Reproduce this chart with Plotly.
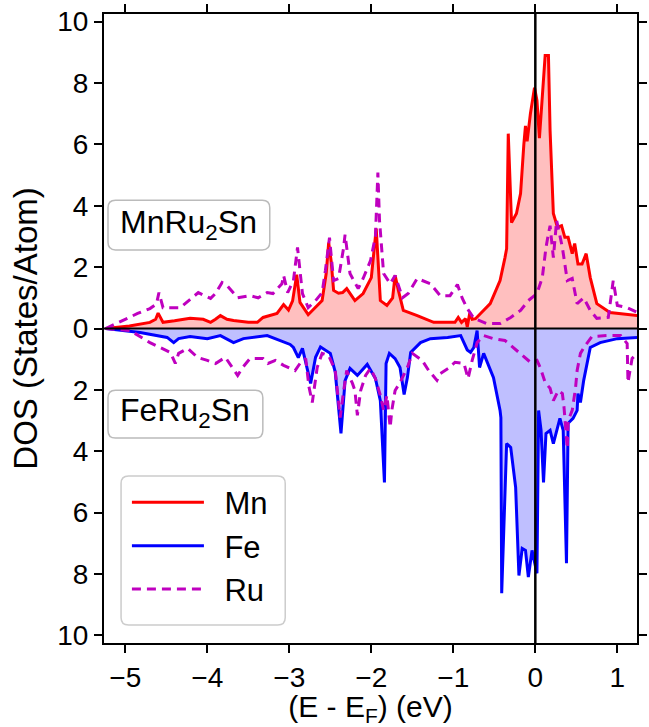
import plotly.graph_objects as go

# ---------------- data ----------------
E_mn = [-5.24, -4.95, -4.70, -4.63, -4.60, -4.54, -4.40, -4.21, -4.05, -3.96, -3.90, -3.84, -3.76, -3.68,
        -3.50, -3.39, -3.32, -3.15, -3.07, -3.01, -2.96, -2.91, -2.87, -2.77, -2.60, -2.55, -2.52, -2.49,
        -2.46, -2.40, -2.35, -2.30, -2.20, -2.10, -2.00, -1.94, -1.89, -1.81, -1.74, -1.71, -1.67, -1.61,
        -1.44, -1.24, -0.98, -0.94, -0.90, -0.85, -0.83, -0.80, -0.77, -0.73, -0.55, -0.43, -0.37, -0.35,
        -0.33, -0.29, -0.23, -0.18, -0.14, -0.12, -0.10, -0.06, -0.01, 0.02, 0.05, 0.09, 0.12, 0.16,
        0.18, 0.22, 0.27, 0.32, 0.36, 0.40, 0.45, 0.48, 0.52, 0.57, 0.62, 0.67, 0.75, 0.91, 1.25]
dos_mn = [0.0, 0.08, 0.2, 0.3, 0.5, 0.2, 0.25, 0.33, 0.3, 0.2, 0.3, 0.42, 0.3, 0.26,
          0.2, 0.2, 0.36, 0.49, 0.78, 0.6, 0.9, 1.75, 0.85, 0.45, 0.91, 1.8, 2.8, 2.2,
          1.24, 1.15, 1.17, 1.3, 0.91, 1.14, 1.66, 3.26, 0.91, 0.75, 1.0, 1.73, 1.24, 0.59,
          0.42, 0.2, 0.2, 0.36, 0.2, 0.32, 0.05, 0.5, 0.3, 0.32, 0.81, 1.56, 2.31, 2.6,
          6.35, 3.45, 3.75, 4.4, 6.0, 6.6, 6.1, 7.0, 7.85, 7.43, 6.2, 7.9, 8.9, 8.9,
          6.45, 3.75, 3.3, 3.35, 2.97, 2.97, 2.44, 2.77, 2.1, 2.1, 2.44, 1.66, 0.81, 0.52, 0.42]

E_fe = [-5.24, -4.82, -4.49, -4.41, -4.35, -4.21, -4.00, -3.84, -3.68, -3.56, -3.27, -3.11, -2.99, -2.95,
        -2.89, -2.84, -2.74, -2.68, -2.62, -2.50, -2.44, -2.37, -2.32, -2.26, -2.17, -2.05, -1.95, -1.89,
        -1.84, -1.82, -1.78, -1.71, -1.65, -1.60, -1.56, -1.52, -1.40, -1.28, -1.07, -0.91, -0.83, -0.79,
        -0.75, -0.71, -0.68, -0.63, -0.51, -0.43, -0.42, -0.41, -0.35, -0.30, -0.24, -0.20, -0.16, -0.12,
        -0.085, -0.04, -0.01, 0.02, 0.04, 0.07, 0.10, 0.13, 0.18, 0.22, 0.30, 0.34, 0.38, 0.40,
        0.46, 0.51, 0.52, 0.55, 0.59, 0.67, 0.79, 1.00, 1.25]
dos_fe = [0.0, 0.13, 0.29, 0.46, 0.33, 0.26, 0.33, 0.23, 0.46, 0.33, 0.23, 0.39, 0.52, 0.62,
          0.95, 0.65, 1.79, 0.94, 0.6, 0.81, 1.42, 3.42, 1.7, 1.3, 1.53, 1.17, 1.63, 2.35,
          5.02, 1.14, 0.81, 0.98, 1.27, 2.15, 1.6, 0.78, 0.46, 0.33, 0.29, 0.23, 0.7, 0.78,
          0.62, 0.07, 1.27, 0.81, 1.6, 2.67, 2.9, 8.63, 3.75, 3.88, 5.18, 8.05, 7.17, 7.23,
          8.1, 7.23, 7.65, 7.98, 2.67, 3.32, 5.02, 3.42, 3.32, 3.75, 2.93, 3.32, 7.65, 3.09,
          2.93, 2.67, 2.12, 2.41, 1.69, 0.62, 0.46, 0.33, 0.29]

E_ru_mn = [-5.24, -4.85, -4.70, -4.62, -4.59, -4.54, -4.33, -4.23, -4.11, -3.96, -3.90, -3.82, -3.76, -3.63,
           -3.48, -3.38, -3.27, -3.20, -3.09, -3.07, -3.02, -2.95, -2.90, -2.84, -2.77, -2.68, -2.60, -2.56,
           -2.51, -2.46, -2.40, -2.34, -2.32, -2.26, -2.16, -2.10, -2.01, -1.95, -1.92, -1.90, -1.85, -1.77,
           -1.71, -1.62, -1.55, -1.44, -1.28, -1.16, -1.04, -0.95, -0.89, -0.83, -0.75, -0.59, -0.43, -0.30,
           -0.18, -0.085, 0.02, 0.085, 0.13, 0.16, 0.18, 0.22, 0.26, 0.33, 0.39, 0.45, 0.51, 0.59,
           0.67, 0.75, 0.89, 0.95, 1.00, 1.12, 1.25]
dos_ru_mn = [0.0, 0.49, 0.65, 0.8, 1.17, 0.68, 0.68, 0.91, 1.17, 0.98, 1.14, 1.5, 1.4, 1.0,
             1.07, 1.0, 1.17, 1.14, 1.46, 1.73, 1.17, 1.56, 2.64, 1.14, 0.68, 0.91, 1.17, 1.89,
             2.96, 1.56, 1.63, 2.6, 3.06, 1.79, 1.3, 1.63, 2.21, 3.0, 5.08, 3.52, 1.79, 1.46,
             1.73, 1.0, 1.14, 1.63, 1.46, 1.07, 1.07, 1.43, 0.98, 0.65, 0.33, 0.16, 0.16, 0.36,
             0.59, 0.91, 1.14, 1.66, 2.64, 3.09, 3.35, 2.31, 3.52, 2.64, 1.56, 1.63, 0.81, 1.0,
             0.59, 0.33, 0.36, 1.56, 0.75, 0.68, 0.52]

E_ru_fe = [-5.24, -4.94, -4.70, -4.45, -4.39, -4.35, -4.24, -4.12, -4.00, -3.90, -3.78, -3.70, -3.63, -3.57,
           -3.48, -3.32, -3.26, -3.17, -3.07, -2.93, -2.86, -2.80, -2.76, -2.72, -2.66, -2.60, -2.52, -2.44,
           -2.38, -2.34, -2.30, -2.23, -2.20, -2.17, -2.13, -2.07, -2.01, -1.95, -1.89, -1.85, -1.81, -1.77,
           -1.75, -1.71, -1.65, -1.56, -1.50, -1.38, -1.30, -1.20, -1.16, -1.06, -0.98, -0.87, -0.82, -0.77,
           -0.71, -0.63, -0.51, -0.37, -0.27, -0.16, -0.06, 0.02, 0.06, 0.12, 0.18, 0.22, 0.28, 0.33,
           0.35, 0.39, 0.40, 0.45, 0.49, 0.51, 0.55, 0.61, 0.69, 0.88, 1.04, 1.12, 1.13, 1.18, 1.25]
dos_ru_fe = [0.0, 0.07, 0.46, 0.78, 1.14, 0.81, 0.65, 0.94, 1.04, 1.14, 0.94, 1.27, 1.53, 1.27,
             0.98, 0.98, 1.14, 1.04, 1.2, 1.37, 1.1, 0.98, 1.91, 2.41, 1.27, 0.81, 0.88, 1.37,
             2.9, 2.08, 1.37, 1.79, 2.02, 2.83, 2.02, 1.53, 1.3, 1.63, 2.18, 2.67, 2.18, 3.22,
             2.67, 2.02, 1.76, 1.27, 0.81, 1.04, 1.37, 1.69, 1.47, 1.3, 1.1, 1.14, 1.63, 1.04,
             0.46, 0.23, 0.33, 0.39, 0.62, 0.88, 1.1, 1.04, 1.27, 1.76, 1.95, 2.35, 2.02, 2.12,
             2.57, 3.91, 3.0, 2.67, 1.95, 1.37, 0.81, 0.55, 0.26, 0.23, 0.23, 0.49, 1.76, 0.98, 0.78]

x_ticks = [-5, -4, -3, -2, -1, 0, 1]
y_ticks = [-10, -8, -6, -4, -2, 0, 2, 4, 6, 8, 10]
y_tick_text = [str(abs(v)) for v in y_ticks]
compound_labels = ["MnRu<sub>2</sub>Sn", "FeRu<sub>2</sub>Sn"]
legend_names = ["Mn", "Fe", "Ru"]

# ---------------- figure ----------------
FONT = "Liberation Sans, Arial, Helvetica, sans-serif"
MAGENTA = "#bf00bf"
LW = 3
DASH = "9px,6px"
PAD = "\u2002"  # small gap between legend sample and its text

fig = go.Figure()
# shaded areas (not in legend)
fig.add_trace(go.Scatter(x=E_mn, y=dos_mn, mode="lines", line=dict(width=0, color="red"),
                         fill="tozeroy", fillcolor="rgba(255,0,0,0.25)", showlegend=False, hoverinfo="skip"))
fig.add_trace(go.Scatter(x=E_fe, y=[-v for v in dos_fe], mode="lines", line=dict(width=0, color="blue"),
                         fill="tozeroy", fillcolor="rgba(0,0,255,0.25)", showlegend=False, hoverinfo="skip"))
# curves
fig.add_trace(go.Scatter(x=E_mn, y=dos_mn, mode="lines", name=PAD + legend_names[0],
                         line=dict(color="red", width=LW), legendgroup="a"))
fig.add_trace(go.Scatter(x=E_fe, y=[-v for v in dos_fe], mode="lines", name=PAD + legend_names[1],
                         line=dict(color="blue", width=LW), legendgroup="b"))
fig.add_trace(go.Scatter(x=E_ru_mn, y=dos_ru_mn, mode="lines", name=PAD + legend_names[2],
                         line=dict(color=MAGENTA, width=LW, dash=DASH), legendgroup="c"))
fig.add_trace(go.Scatter(x=E_ru_fe, y=[-v for v in dos_ru_fe], mode="lines", name=PAD + legend_names[2],
                         line=dict(color=MAGENTA, width=LW, dash=DASH), legendgroup="c",
                         showlegend=False))

xr = [-5.26, 1.24]
yr = [-10.25, 10.25]

tick_common = dict(showgrid=False, zeroline=False, tickcolor="black", tickwidth=1.5, ticklen=8,
                   automargin=False)
fig.update_layout(
    width=649, height=727,
    margin=dict(l=104, r=12, t=14, b=84),
    paper_bgcolor="white", plot_bgcolor="white",
    font=dict(family=FONT, color="black", size=28),
    xaxis=dict(range=xr, tickvals=x_ticks, ticks="outside", mirror="ticks", showline=True,
               linecolor="black", linewidth=2, tickfont=dict(size=28),
               title=dict(text="(E - E<sub>F</sub>) (eV)", font=dict(size=30), standoff=16),
               **tick_common),
    yaxis=dict(range=yr, tickvals=y_ticks, ticktext=y_tick_text, ticks="outside", mirror="ticks",
               showline=True, linecolor="black", linewidth=2, tickfont=dict(size=28),
               title=dict(text="DOS (States/Atom)", font=dict(size=33), standoff=10), **tick_common),
    xaxis2=dict(range=xr, overlaying="x", anchor="y", tickvals=x_ticks, ticks="inside", mirror="ticks",
                showticklabels=False, showline=False, **tick_common),
    yaxis2=dict(range=yr, overlaying="y", anchor="x", tickvals=y_ticks, ticks="inside", mirror="ticks",
                showticklabels=False, showline=False, **tick_common),
    legend=dict(x=0.043, y=0.266, xanchor="left", yanchor="top", bgcolor="rgba(0,0,0,0)",
                borderwidth=0, font=dict(size=31), tracegroupgap=21, itemwidth=72,
                traceorder="normal"),
    showlegend=True,
)

def rounded_box(x0, y0, x1, y1, rx=0.014, ry=0.012):
    return (f"M{x0+rx},{y0} L{x1-rx},{y0} Q{x1},{y0} {x1},{y0+ry} L{x1},{y1-ry} Q{x1},{y1} {x1-rx},{y1} "
            f"L{x0+rx},{y1} Q{x0},{y1} {x0},{y1-ry} L{x0},{y0+ry} Q{x0},{y0} {x0+rx},{y0} Z")

shapes = [
    dict(type="line", xref="x", yref="paper", x0=0, x1=0, y0=0, y1=1, line=dict(color="black", width=2.5), layer="above"),
    dict(type="line", xref="paper", yref="y", x0=0, x1=1, y0=0, y1=0, line=dict(color="black", width=2), layer="above"),
    dict(type="path", xref="paper", yref="paper", path=rounded_box(0.0075, 0.625, 0.311, 0.704),
         line=dict(color="#bbbbbb", width=1.5), fillcolor="rgba(255,255,255,0.8)", layer="above"),
    dict(type="path", xref="paper", yref="paper", path=rounded_box(0.0075, 0.326, 0.298, 0.402),
         line=dict(color="#bbbbbb", width=1.5), fillcolor="rgba(255,255,255,0.8)", layer="above"),
    dict(type="path", xref="paper", yref="paper", path=rounded_box(0.032, 0.0286, 0.340, 0.2655),
         line=dict(color="#cccccc", width=1.5), fillcolor="rgba(255,255,255,0.8)", layer="below"),
]
fig.update_layout(shapes=shapes)

fig.add_annotation(x=0.159, y=0.666, xref="paper", yref="paper", text=compound_labels[0],
                   xanchor="center", yanchor="middle", showarrow=False, font=dict(size=32, family=FONT))
fig.add_annotation(x=0.152, y=0.366, xref="paper", yref="paper", text=compound_labels[1],
                   xanchor="center", yanchor="middle", showarrow=False, font=dict(size=32, family=FONT))

fig.write_html("out.html", config={"displayModeBar": False},
               post_script="document.body.style.margin='0';document.body.style.overflow='hidden';")
